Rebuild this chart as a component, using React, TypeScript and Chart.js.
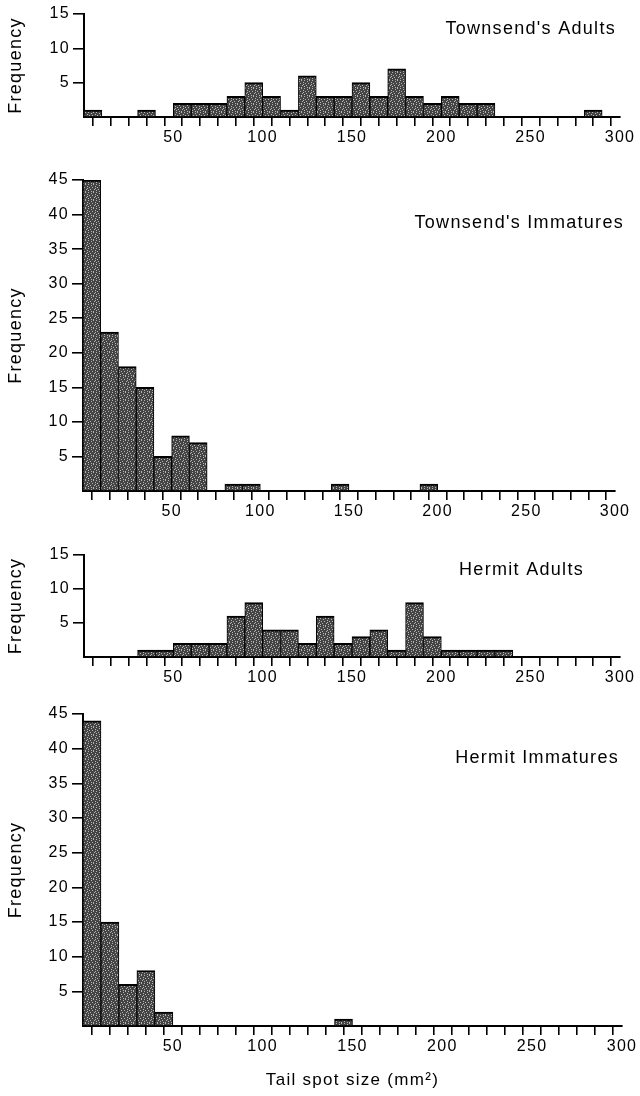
import React, { useEffect, useRef } from 'react';
import { Chart, registerables } from 'chart.js';

Chart.register(...registerables);

// ---- Data ----
const binCenters = [5, 15, 25, 35, 45, 55, 65, 75, 85, 95, 105, 115, 125, 135, 145, 155, 165, 175, 185, 195, 205, 215, 225, 235, 245, 255, 265, 275, 285, 295];
const townsendAdults = [1, 0, 0, 1, 0, 2, 2, 2, 3, 5, 3, 1, 6, 3, 3, 5, 3, 7, 3, 2, 3, 2, 2, 0, 0, 0, 0, 0, 1, 0];
const townsendImmatures = [45, 23, 18, 15, 5, 8, 7, 0, 1, 1, 0, 0, 0, 0, 1, 0, 0, 0, 0, 1, 0, 0, 0, 0, 0, 0, 0, 0, 0, 0];
const hermitAdults = [0, 0, 0, 1, 1, 2, 2, 2, 6, 8, 4, 4, 2, 6, 2, 3, 4, 1, 8, 3, 1, 1, 1, 1, 0, 0, 0, 0, 0, 0];
const hermitImmatures = [44, 15, 6, 8, 2, 0, 0, 0, 0, 0, 0, 0, 0, 0, 1, 0, 0, 0, 0, 0, 0, 0, 0, 0, 0, 0, 0, 0, 0, 0];
const xTickLabels = [50, 100, 150, 200, 250, 300];
const yTicksSmall = [5, 10, 15];
const yTicksLarge = [5, 10, 15, 20, 25, 30, 35, 40, 45];
const panelTitles = ["Townsend's Adults", "Townsend's Immatures", 'Hermit Adults', 'Hermit Immatures'];
const yAxisTitle = 'Frequency';
const xAxisTitle = 'Tail spot size (mm²)';

// ---- Layout (page pixel coordinates) ----
type PanelLayout = {
  top: number; height: number;
  plotTop: number; plotBottom: number; plotLeft: number; plotRight: number;
  titleRight: number; titleBaseline: number;
  xAxisH: number; showXTitle: boolean;
};

const layouts: PanelLayout[] = [
  { top: 0, height: 160, plotTop: 14, plotBottom: 117, plotLeft: 84, plotRight: 620, titleRight: 616, titleBaseline: 34, xAxisH: 30, showXTitle: false },
  { top: 160, height: 370, plotTop: 180, plotBottom: 491, plotLeft: 83, plotRight: 615, titleRight: 624, titleBaseline: 228, xAxisH: 30, showXTitle: false },
  { top: 530, height: 165, plotTop: 555, plotBottom: 657, plotLeft: 84, plotRight: 620, titleRight: 584, titleBaseline: 575, xAxisH: 30, showXTitle: false },
  { top: 695, height: 401, plotTop: 714, plotBottom: 1026, plotLeft: 83, plotRight: 622, titleRight: 619, titleBaseline: 763, xAxisH: 66, showXTitle: true },
];

const seriesList = [townsendAdults, townsendImmatures, hermitAdults, hermitImmatures];
const yMaxList = [15, 45, 15, 45];
const yTickList = [yTicksSmall, yTicksLarge, yTicksSmall, yTicksLarge];

const FAMILY = '"Liberation Sans", Arial, Helvetica, sans-serif';
const SPACING = '1.3px';

// fixed stipple positions for the bar fill texture (8x8 tile)
const STIPPLE: [number, number][] = [[0, 0], [5, 0], [3, 1], [7, 2], [1, 3], [4, 3], [6, 5], [2, 5], [0, 6], [5, 7], [3, 7], [7, 4]];

function makePattern(): CanvasPattern | string {
  const pc = document.createElement('canvas');
  pc.width = 8;
  pc.height = 8;
  const c = pc.getContext('2d');
  if (!c) return '#585858';
  c.fillStyle = '#444444';
  c.fillRect(0, 0, 8, 8);
  c.fillStyle = '#b4b4b4';
  STIPPLE.forEach(([x, y]) => c.fillRect(x, y, 1, 1));
  const pat = c.createPattern(pc, 'repeat');
  return pat || '#585858';
}

function Panel({ index }: { index: number }) {
  const ref = useRef<HTMLCanvasElement | null>(null);
  const L = layouts[index];

  useEffect(() => {
    const canvas = ref.current;
    if (!canvas) return;
    const values = seriesList[index];
    const yTicks = yTickList[index];
    const title = panelTitles[index];
    const hideZero = (c: any) => (c.tick && c.tick.value === 0 ? 'rgba(0,0,0,0)' : '#000');

    const spacingPlugin = {
      id: 'letterSpacing',
      beforeDraw(chart: any) {
        chart.ctx.letterSpacing = SPACING;
      },
    };
    const titlePlugin = {
      id: 'panelTitle',
      afterDraw(chart: any) {
        const ctx = chart.ctx;
        ctx.save();
        ctx.letterSpacing = SPACING;
        ctx.font = `18px ${FAMILY}`;
        ctx.fillStyle = '#000';
        ctx.textAlign = 'right';
        ctx.textBaseline = 'alphabetic';
        ctx.fillText(title, L.titleRight, L.titleBaseline - L.top);
        ctx.restore();
      },
    };

    const chart = new Chart(canvas, {
      type: 'bar',
      data: {
        datasets: [
          {
            data: values.map((v, i) => ({ x: binCenters[i], y: v })),
            backgroundColor: makePattern() as any,
            borderColor: '#000',
            borderWidth: { top: 2, left: 1, right: 1, bottom: 0 },
            borderSkipped: 'start',
            barPercentage: 1,
            categoryPercentage: 1,
          },
        ],
      },
      options: {
        responsive: false,
        animation: false,
        devicePixelRatio: 1,
        layout: {
          padding: {
            left: 0,
            right: 640 - L.plotRight,
            top: L.plotTop - L.top,
            bottom: L.height - (L.plotBottom - L.top) - L.xAxisH,
          },
        },
        plugins: {
          legend: { display: false },
          tooltip: { enabled: false },
          title: { display: false },
        },
        scales: {
          x: {
            type: 'linear',
            min: 0,
            max: 300,
            offset: false,
            afterFit: (s: any) => { s.height = L.xAxisH; },
            border: { display: true, color: '#000', width: 2 },
            grid: { display: true, drawOnChartArea: false, drawTicks: true, tickLength: 9, lineWidth: 1.6, color: hideZero },
            ticks: {
              stepSize: 10,
              autoSkip: false,
              maxRotation: 0,
              minRotation: 0,
              padding: 2,
              color: '#000',
              font: { family: FAMILY, size: 16 },
              callback: (v: any) => (xTickLabels.includes(Number(v)) ? String(v) : ''),
            },
            title: {
              display: L.showXTitle,
              text: xAxisTitle,
              color: '#000',
              font: { family: FAMILY, size: 17 },
              padding: { top: 0, bottom: 1 },
            },
          },
          y: {
            type: 'linear',
            min: 0,
            max: yMaxList[index],
            afterFit: (s: any) => { s.width = L.plotLeft; },
            border: { display: true, color: '#000', width: 2 },
            grid: { display: true, drawOnChartArea: false, drawTicks: true, tickLength: 11, lineWidth: 1.6, color: hideZero },
            ticks: {
              stepSize: 5,
              padding: 3,
              color: '#000',
              font: { family: FAMILY, size: 16 },
              callback: (v: any) => (yTicks.includes(Number(v)) ? String(v) : ''),
            },
            title: {
              display: true,
              text: yAxisTitle,
              color: '#000',
              font: { family: FAMILY, size: 18 },
              padding: { top: 5, bottom: 0 },
            },
          },
        },
      } as any,
      plugins: [spacingPlugin, titlePlugin],
    });
    return () => chart.destroy();
  }, [index]);

  return (
    <canvas
      ref={ref}
      width={640}
      height={L.height}
      style={{ position: 'absolute', left: 0, top: L.top, width: 640, height: L.height, display: 'block' }}
    />
  );
}

export default function App() {
  return (
    <div style={{ position: 'absolute', left: 0, top: 0, width: 640, height: 1096, background: '#fff', overflow: 'hidden' }}>
      {layouts.map((_, i) => (
        <Panel key={i} index={i} />
      ))}
    </div>
  );
}
